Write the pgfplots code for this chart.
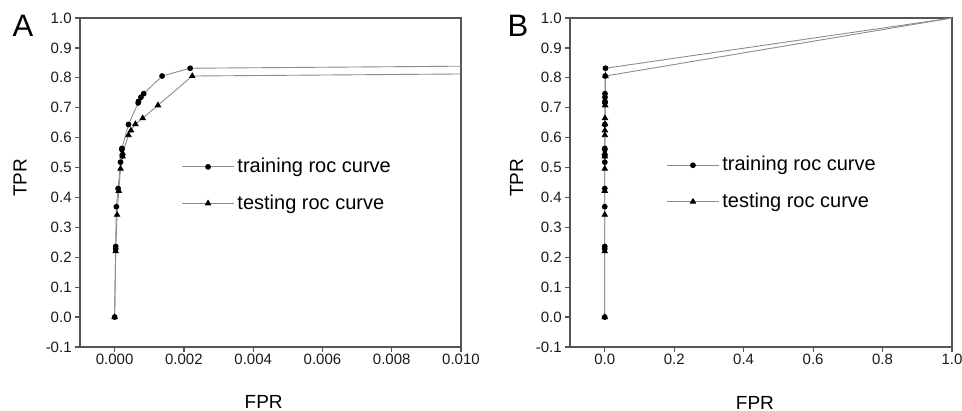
\documentclass[border=0pt]{standalone}
\usepackage{pgfplots}
\pgfplotsset{compat=1.18}
\usepackage{pgfplotstable}
\usepackage{fontspec}
\setmainfont{Liberation Sans}
\definecolor{axgray}{HTML}{555555}
\definecolor{curvegray}{HTML}{8C8C8C}

\pgfplotsset{
  rocstyle/.style={
    scale only axis,
    anchor=south west,
    height=164.5pt,
    ymin=-0.1, ymax=1.0,
    ytick={-0.1,0,0.1,0.2,0.3,0.4,0.5,0.6,0.7,0.8,0.9,1.0},
    axis line style={axgray, line width=0.8pt},
    every tick/.style={axgray, line width=0.6pt},
    tick align=outside,
    xtick pos=bottom, ytick pos=left,
    major tick length=2.5pt,
    scaled x ticks=false, scaled y ticks=false,
    /pgf/number format/assume math mode=true,
    tick label style={font=\fontsize{7.5}{8.5}\selectfont, text=black!90},
    xticklabel style={inner sep=1pt},
    yticklabel style={inner sep=1.5pt, /pgf/number format/.cd, fixed, fixed zerofill, precision=1},
    label style={font=\fontsize{9.5}{11}\selectfont},
    legend style={draw=none, fill=none, font=\fontsize{10}{12}\selectfont,
                  row sep=6.5pt, nodes={inner sep=1.5pt}, anchor=west},
    legend cell align=left,
    legend image code/.code={
      \draw[curvegray, line width=0.4pt] (0pt,0pt) -- (26pt,0pt);
      \draw[mark repeat=2, mark phase=2, draw=none] plot coordinates {(0pt,0pt) (13pt,0pt) (26pt,0pt)};
    },
  },
  trainstyle/.style={curvegray, line width=0.45pt, mark=*, mark size=1.2pt, mark options={black, fill=black, solid}},
  teststyle/.style={curvegray, line width=0.45pt, mark=triangle*, mark size=1.5pt, mark options={black, fill=black, solid}},
  tailstyle/.style={curvegray, line width=0.45pt, no marks, forget plot},
}

% training ROC points (FPR, TPR)
\pgfplotstableread{
x y
0 0
0.00003 0.228
0.00003 0.236
0.00005 0.369
0.00010 0.430
0.00017 0.518
0.00022 0.539
0.00021 0.560
0.00021 0.564
0.00040 0.644
0.00068 0.716
0.00069 0.721
0.00076 0.735
0.00084 0.747
0.00137 0.806
0.00218 0.832
}\training

% testing ROC points (FPR, TPR)
\pgfplotstableread{
x y
0 0
0.00003 0.220
0.00007 0.342
0.00012 0.422
0.00017 0.496
0.00023 0.537
0.00023 0.548
0.00040 0.608
0.00047 0.624
0.00060 0.645
0.00081 0.665
0.00125 0.708
0.00224 0.806
}\testing

% the segments that leave panel A at its right edge
\pgfplotstableread{
x y
0.00218 0.832
0.0102 0.839
}\trainingtail
\pgfplotstableread{
x y
0.00224 0.806
0.0102 0.813
}\testingtail

% the end point (1,1) of both curves in panel B
\pgfplotstableread{
x y
0.00218 0.832
1 1
}\trainingend
\pgfplotstableread{
x y
0.00224 0.806
1 1
}\testingend

\begin{document}
\begin{tikzpicture}
\begin{axis}[rocstyle,
  at={(40pt,32pt)}, width=190.5pt,
  xmin=-0.001, xmax=0.010,
  xtick={0,0.002,0.004,0.006,0.008,0.010},
  xticklabel style={/pgf/number format/.cd, fixed, fixed zerofill, precision=3},
  xlabel={FPR}, ylabel={TPR},
  xlabel style={at={(axis description cs:0.482,-0.167)}, anchor=center},
  ylabel style={at={(axis description cs:-0.157,0.514)}, anchor=center},
  legend style={at={(axis description cs:0.250,0.492)}},
]
\addplot[tailstyle] table {\trainingtail};
\addplot[tailstyle] table {\testingtail};
\addplot[trainstyle] table {\training};
\addlegendentry{training roc curve}
\addplot[teststyle] table {\testing};
\addlegendentry{testing roc curve}
\end{axis}

\begin{axis}[rocstyle,
  at={(285pt,32pt)}, width=191pt,
  xmin=-0.1, xmax=1.0,
  xtick={0,0.2,0.4,0.6,0.8,1.0},
  xticklabel style={/pgf/number format/.cd, fixed, fixed zerofill, precision=1},
  xlabel={FPR}, ylabel={TPR},
  xlabel style={at={(axis description cs:0.484,-0.17)}, anchor=center},
  ylabel style={at={(axis description cs:-0.140,0.514)}, anchor=center},
  legend style={at={(axis description cs:0.236,0.497)}},
]
\addplot[tailstyle, mark=*, mark size=0.7pt, mark options={black}, mark indices={2}] table {\trainingend};
\addplot[tailstyle] table {\testingend};
\addplot[trainstyle] table {\training};
\addlegendentry{training roc curve}
\addplot[teststyle] table {\testing};
\addlegendentry{testing roc curve}
\end{axis}

\node[font=\fontsize{15.5}{18}\selectfont, inner sep=0pt] at (11.5pt,192.5pt) {A};
\node[font=\fontsize{15.5}{18}\selectfont, inner sep=0pt] at (259pt,192.5pt) {B};

\pgfresetboundingbox
\path[use as bounding box] (0pt,0pt) rectangle (481pt,205.5pt);
\end{tikzpicture}
\end{document}
